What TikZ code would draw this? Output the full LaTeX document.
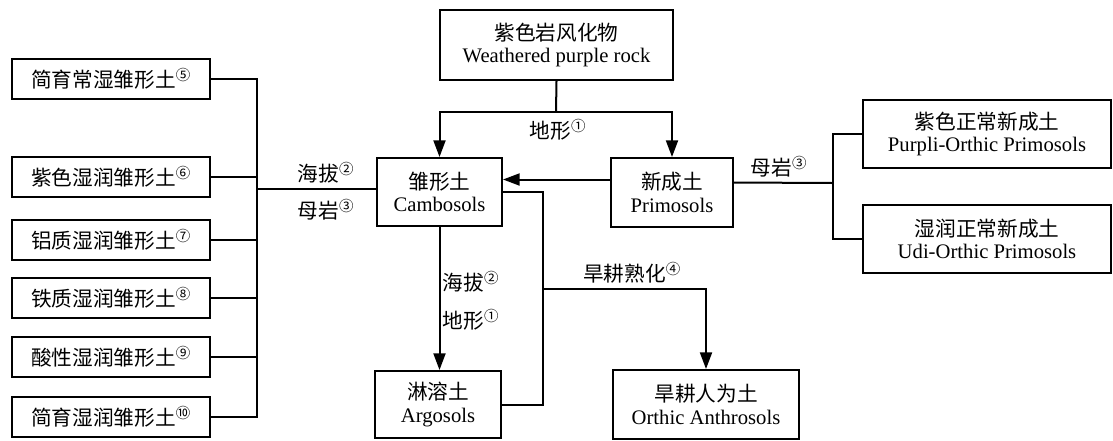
\documentclass[tikz,border=0pt]{standalone}
\usepackage{fontspec}
\setmainfont{Liberation Serif}
\newfontfamily\cjk{Noto Sans CJK SC}
\usetikzlibrary{arrows.meta,calc}
\newcommand{\zh}[1]{{\cjk #1}}
\newcommand{\cn}[1]{\textsuperscript{\cjk #1}}

\begin{document}
\begin{tikzpicture}[x=0.75pt,y=-0.75pt,
    line width=1.5pt,
    soil/.style={draw, line width=1.5pt, align=center, inner sep=0pt,
      font=\fontsize{15.5}{17}\selectfont},
    leftsoil/.style={soil, minimum width=148.5pt, minimum height=30.5pt},
    lab/.style={font=\fontsize{15.5}{17}\selectfont, inner sep=0pt},
    arr/.style={-{Triangle[length=12.5pt,width=9pt]}}]
    \useasboundingbox (0,0) rectangle (1113,440);
    % central soils
    \node[soil, minimum width=174.75pt, minimum height=52.5pt] (rock) at (556.5,45) {\zh{紫色岩风化物}\\Weathered purple rock};
    \node[soil, minimum width=93.75pt, minimum height=51pt] (camb) at (439.5,192) {\zh{雏形土}\\Cambosols};
    \node[soil, minimum width=91.5pt, minimum height=51.75pt] (prim) at (672,192.5) {\zh{新成土}\\Primosols};
    \node[soil, minimum width=94.5pt, minimum height=50.25pt] (argo) at (438,404.5) {\zh{淋溶土}\\Argosols};
    \node[soil, minimum width=139.5pt, minimum height=51.75pt] (anth) at (706,404.5) {\zh{旱耕人为土}\\Orthic Anthrosols};
    % primosols subgroups
    \node[soil, minimum width=186pt, minimum height=51pt] (purp) at (987,134) {\zh{紫色正常新成土}\\Purpli-Orthic Primosols};
    \node[soil, minimum width=186pt, minimum height=51pt] (udi) at (987,239) {\zh{湿润正常新成土}\\Udi-Orthic Primosols};
    % cambosols subgroups
    \node[leftsoil] (l1) at (111,79) {\zh{简育常湿雏形土}\cn{⑤}};
    \node[leftsoil] (l2) at (111,177) {\zh{紫色湿润雏形土}\cn{⑥}};
    \node[leftsoil] (l3) at (111,240) {\zh{铝质湿润雏形土}\cn{⑦}};
    \node[leftsoil] (l4) at (111,298) {\zh{铁质湿润雏形土}\cn{⑧}};
    \node[leftsoil] (l5) at (111,357) {\zh{酸性湿润雏形土}\cn{⑨}};
    \node[leftsoil] (l6) at (111,417) {\zh{简育湿润雏形土}\cn{⑩}};
    % junctions
    \coordinate (jt) at (556,112);
    \coordinate (jl) at (257,189);
    \coordinate (jr) at (543,289);
    \coordinate (jp) at (833,183);
    % connectors
    \draw (rock.south) -- (jt);
    \draw[arr] (jt) -| (camb.north);
    \draw[arr] (jt) -| (prim.north);
    \draw[arr] ($(prim.west)+(0,-13)$) -- (camb.east |- {$(prim.west)+(0,-13)$});
    \draw[arr] (camb.south) -- (camb.south |- argo.north);
    \foreach \n in {l1,l2,l3,l4,l5,l6}
      \draw (\n.east) -| (jl);
    \draw (jl) -- (camb.west |- jl);
    \draw (camb.east) -| (jr) |- (argo.east);
    \draw[arr] (jr) -| (anth.north);
    \draw ($(prim.east)+(0,-10)$) -- (jp);
    \draw (purp.west) -| (jp);
    \draw (udi.west) -| (jp);
    % factor labels
    \node[lab] (f1) at (558,130) {\zh{地形}\cn{①}};
    \node[lab] (f2) at (326,173) {\zh{海拔}\cn{②}};
    \node[lab] (f3) at (326,210) {\zh{母岩}\cn{③}};
    \node[lab] (f4) at (471,282) {\zh{海拔}\cn{②}};
    \node[lab] (f5) at (471,320) {\zh{地形}\cn{①}};
    \node[lab] (f6) at (632,273) {\zh{旱耕熟化}\cn{④}};
    \node[lab] (f7) at (779,167) {\zh{母岩}\cn{③}};
\end{tikzpicture}
\end{document}
